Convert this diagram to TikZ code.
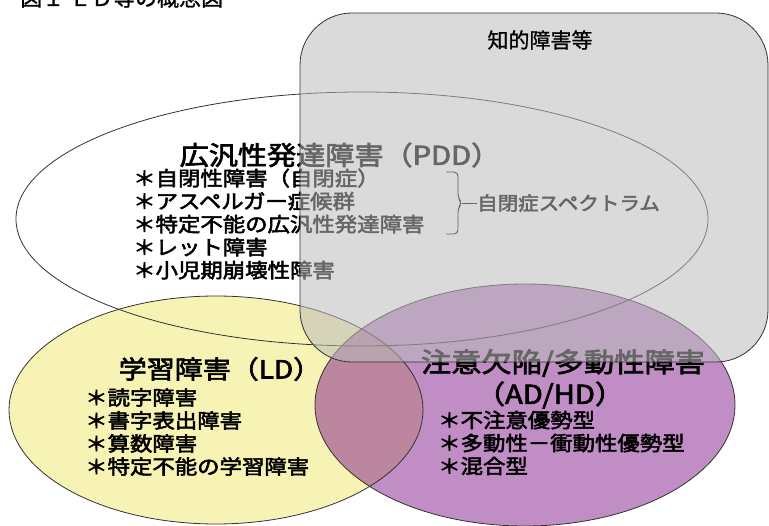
\documentclass[tikz,border=0pt]{standalone}
\usepackage{fontspec}
\usepackage{xcolor}
\newfontfamily\jpfont{Noto Sans CJK JP}[FakeBold=1]
\newfontfamily\jpbold{Noto Sans CJK JP}[FakeBold=2.5]
\definecolor{ldyellow}{RGB}{247,243,181}
\definecolor{adhdpurple}{RGB}{129,27,137}
\definecolor{idgray}{RGB}{187,187,187}
\definecolor{edgegray}{RGB}{50,50,50}

\begin{document}
\begin{tikzpicture}[x=1pt, y=-1pt,
  venn/.style={draw=edgegray, line width=0.8pt},
  title/.style={font=\jpbold\fontsize{26}{30}\selectfont, xscale=1.12, inner sep=0pt},
  items/.style={font=\jpbold\fontsize{20}{23}\selectfont, xscale=1.12, align=left, anchor=west, inner sep=0pt}]

  \useasboundingbox (0,0) rectangle (769,526);

  % Define the centres of the ellipses
  \coordinate (P) at (362,219);
  \coordinate (L) at (216,410);
  \coordinate (H) at (525,405);

  % Fill the lower ellipses
  \fill[ldyellow] (L) ellipse [x radius=207, y radius=114];
  \fill[adhdpurple, fill opacity=0.5] (H) ellipse [x radius=210, y radius=121];

  % Draw the outlines
  \draw[venn] (P) ellipse [x radius=346, y radius=127];
  \draw[venn] (L) ellipse [x radius=207, y radius=114];
  \draw[venn] (H) ellipse [x radius=210, y radius=121];

  % Label the PDD ellipse
  \node[title] (pdd) at (340,155) {広汎性発達障害（PDD）};
  \node[items] (pddlist) at (133,224) {＊自閉性障害（自閉症）\\＊アスペルガー症候群\\＊特定不能の広汎性発達障害\\＊レット障害\\＊小児期崩壊性障害};

  % Draw the brace with its label
  \node[font=\jpbold\fontsize{19}{22}\selectfont, xscale=1.08, anchor=west, inner sep=0pt] (asd) at (477,203) {自閉症スペクトラム};
  \coordinate (tip) at (462,203);
  \draw[line width=0.9pt, rounded corners=4pt] (446,172) -| (458,198) -- (tip) -- (458,208) |- (446,234);
  \draw[line width=0.9pt] (tip) -- (asd.west);

  % Label the LD ellipse
  \node[title, font=\jpbold\fontsize{25}{28}\selectfont] (ld) at (220,369) {学習障害（LD）};
  \node[items] (ldlist) at (85,432) {＊読字障害\\＊書字表出障害\\＊算数障害\\＊特定不能の学習障害};

  % Label the AD/HD ellipse
  \node[title, font=\jpbold\fontsize{27}{30}\selectfont] (adhd) at (563,363) {注意欠陥/多動性障害};
  \node[title] (adhdsub) at (550,395) {（AD/HD）};
  \node[items] (adhdlist) at (438,443) {＊不注意優勢型\\＊多動性－衝動性優勢型\\＊混合型};

  % Draw the box on top
  \draw[venn, fill=idgray, fill opacity=0.55, rounded corners=52pt] (300,13) rectangle (768,362);
  \node[font=\jpfont\fontsize{21}{24}\selectfont] (id) at (540,40) {知的障害等};

  % Caption cut off at the top
  \node[anchor=base west, font=\jpfont\fontsize{22}{24}\selectfont, inner sep=0pt] (caption) at (20,6) {図１ ＬＤ等の概念図};

\end{tikzpicture}
\end{document}
